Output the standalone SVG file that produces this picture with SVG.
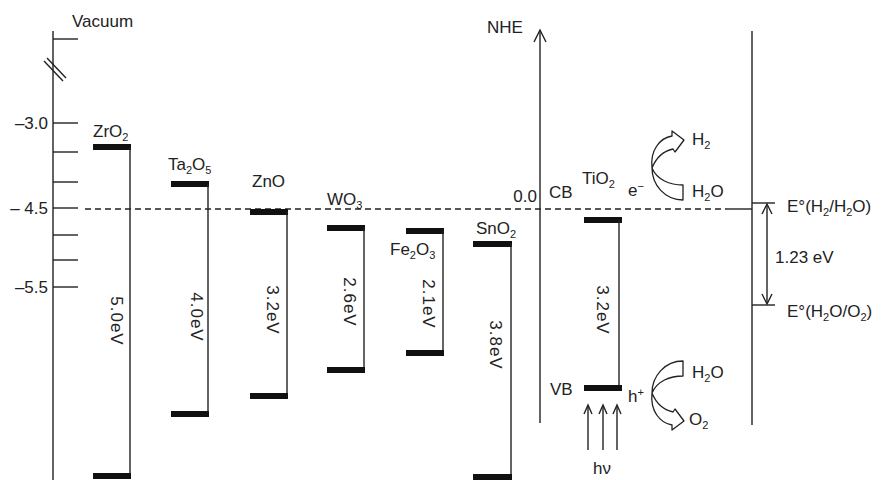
<svg xmlns="http://www.w3.org/2000/svg" width="883" height="480" viewBox="0 0 883 480">
<style>
text{font-family:"Liberation Sans",Arial,sans-serif;font-size:17px;fill:#222}
.ln{stroke:#222;stroke-width:1.4;fill:none}
.bar{fill:#111}
.rot{text-anchor:middle;dominant-baseline:central;letter-spacing:1px}
.sub{font-size:11px}
.ar{fill:#fff;stroke:#222;stroke-width:1.3;stroke-linejoin:round}
</style>
<rect width="883" height="480" fill="#fff"/>
<g id="axis-left">
<line class="ln" x1="53" y1="31" x2="53" y2="480"/>
<g class="ln">
<line x1="53" y1="39" x2="78" y2="39"/>
<line x1="53" y1="123" x2="78" y2="123"/>
<line x1="53" y1="152" x2="78" y2="152"/>
<line x1="53" y1="182" x2="78" y2="182"/>
<line x1="53" y1="208" x2="78" y2="208"/>
<line x1="53" y1="235" x2="78" y2="235"/>
<line x1="53" y1="260" x2="78" y2="260"/>
<line x1="53" y1="287" x2="78" y2="287"/>
<line x1="44" y1="61" x2="63" y2="81"/>
<line x1="47" y1="58" x2="66" y2="78"/>
</g>
<text x="72" y="27">Vacuum</text>
<text x="48" y="129" text-anchor="end">–3.0</text>
<text x="48" y="214" text-anchor="end">– 4.5</text>
<text x="48" y="293" text-anchor="end">–5.5</text>
</g>
<g id="connectors">
<line class="ln" x1="85" y1="209" x2="727" y2="209" stroke-dasharray="6,4"/>
<line class="ln" x1="727" y1="209" x2="752" y2="209"/>
</g>
<g id="ZrO2">
<rect class="bar" x="93" y="144" width="38" height="6"/>
<line class="ln" x1="130" y1="147" x2="130" y2="476"/>
<rect class="bar" x="93" y="473" width="38" height="6"/>
<text x="93" y="137">ZrO<tspan class="sub" dy="4">2</tspan></text>
<text class="rot" transform="translate(116,321) rotate(90)">5.0eV</text>
</g>
<g id="Ta2O5">
<rect class="bar" x="171" y="181" width="38" height="6"/>
<line class="ln" x1="208" y1="184" x2="208" y2="414"/>
<rect class="bar" x="171" y="411" width="38" height="6"/>
<text x="168" y="170">Ta<tspan class="sub" dy="4">2</tspan><tspan dy="-4">O</tspan><tspan class="sub" dy="4">5</tspan></text>
<text class="rot" transform="translate(196,317) rotate(90)">4.0eV</text>
</g>
<g id="ZnO">
<rect class="bar" x="250" y="209" width="38" height="6"/>
<line class="ln" x1="287" y1="212" x2="287" y2="396"/>
<rect class="bar" x="250" y="393" width="38" height="6"/>
<text x="252" y="187">ZnO</text>
<text class="rot" transform="translate(272,310) rotate(90)">3.2eV</text>
</g>
<g id="WO3">
<rect class="bar" x="327" y="225" width="38" height="6"/>
<line class="ln" x1="364" y1="228" x2="364" y2="370"/>
<rect class="bar" x="327" y="367" width="38" height="6"/>
<text x="327" y="205">WO<tspan class="sub" dy="4">3</tspan></text>
<text class="rot" transform="translate(349,302) rotate(90)">2.6eV</text>
</g>
<g id="Fe2O3">
<rect class="bar" x="406" y="228" width="38" height="6"/>
<line class="ln" x1="443" y1="231" x2="443" y2="353"/>
<rect class="bar" x="406" y="350" width="38" height="6"/>
<text x="390" y="255">Fe<tspan class="sub" dy="4">2</tspan><tspan dy="-4">O</tspan><tspan class="sub" dy="4">3</tspan></text>
<text class="rot" transform="translate(428,304) rotate(90)">2.1eV</text>
</g>
<g id="SnO2">
<rect class="bar" x="473" y="241" width="39" height="6"/>
<line class="ln" x1="511" y1="244" x2="511" y2="477"/>
<rect class="bar" x="473" y="474" width="39" height="6"/>
<text x="476" y="234">SnO<tspan class="sub" dy="4">2</tspan></text>
<text class="rot" transform="translate(495,345) rotate(90)">3.8eV</text>
</g>
<g id="NHE">
<line class="ln" x1="540" y1="31" x2="540" y2="423"/>
<polyline class="ln" points="534,42 540,30 546,42"/>
<text x="487" y="33">NHE</text>
<text x="537" y="202" text-anchor="end">0.0</text>
</g>
<g id="TiO2">
<rect class="bar" x="584" y="217" width="38" height="6"/>
<line class="ln" x1="619" y1="220" x2="619" y2="388"/>
<rect class="bar" x="584" y="385" width="38" height="6"/>
<text x="549" y="198">CB</text>
<text x="582" y="184">TiO<tspan class="sub" dy="4">2</tspan></text>
<text x="628" y="196">e<tspan class="sub" dy="-6">−</tspan></text>
<text x="550" y="395">VB</text>
<text x="628" y="402">h<tspan class="sub" dy="-6">+</tspan></text>
<text class="rot" transform="translate(602,310) rotate(90)">3.2eV</text>
<g class="ln">
<line x1="588" y1="450" x2="588" y2="406"/>
<polyline points="584,414 588,405 592,414"/>
<line x1="603" y1="450" x2="603" y2="406"/>
<polyline points="599,414 603,405 607,414"/>
<line x1="617" y1="450" x2="617" y2="406"/>
<polyline points="613,414 617,405 621,414"/>
</g>
<text x="602" y="474" text-anchor="middle">hν</text>
</g>
<g id="reaction-H2">
<path class="ar" d="M683,185 C670,185 657,180 652,168 C656,158 664,151 673,149 L675,152 L684,140 L672,131 L672,136 C660,138 650,150 652,168 C652,185 665,200 683,200 Z"/>
<text x="692" y="145">H<tspan class="sub" dy="4">2</tspan></text>
<text x="692" y="197">H<tspan class="sub" dy="4">2</tspan><tspan dy="-4">O</tspan></text>
</g>
<g id="reaction-O2">
<path class="ar" transform="translate(0,561) scale(1,-1)" d="M683,185 C670,185 657,180 652,168 C656,158 664,151 673,149 L675,152 L684,140 L672,131 L672,136 C660,138 650,150 652,168 C652,185 665,200 683,200 Z"/>
<text x="692" y="378">H<tspan class="sub" dy="4">2</tspan><tspan dy="-4">O</tspan></text>
<text x="689" y="425">O<tspan class="sub" dy="4">2</tspan></text>
</g>
<g id="potential-scale">
<line class="ln" x1="752" y1="31" x2="752" y2="425"/>
<line class="ln" x1="752" y1="203" x2="775" y2="203"/>
<line class="ln" x1="752" y1="305" x2="775" y2="305"/>
<line class="ln" x1="767" y1="205" x2="767" y2="303"/>
<polyline class="ln" points="762,214 767,204 772,214"/>
<polyline class="ln" points="762,294 767,304 772,294"/>
<text x="775" y="263">1.23 eV</text>
<text x="787" y="212">E°(H<tspan class="sub" dy="4">2</tspan><tspan dy="-4">/H</tspan><tspan class="sub" dy="4">2</tspan><tspan dy="-4">O)</tspan></text>
<text x="787" y="317">E°(H<tspan class="sub" dy="4">2</tspan><tspan dy="-4">O/O</tspan><tspan class="sub" dy="4">2</tspan><tspan dy="-4">)</tspan></text>
</g>
</svg>
